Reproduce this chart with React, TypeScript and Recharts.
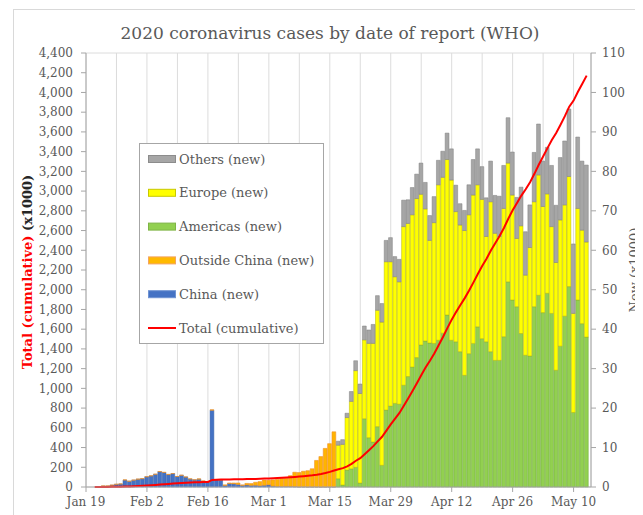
import React from 'react';
import { ComposedChart, Bar, Line, XAxis, YAxis, CartesianGrid } from 'recharts';

// days are counted from Jan 19 (day 0); data starts Jan 21
const FIRST_DAY = 2;
const REGIONS_FROM = 58; // Mar 17: split by region instead of China / outside China

const tickDays = [0, 14, 28, 42, 56, 70, 84, 98, 112];
const tickLabels = ['Jan 19', 'Feb 2', 'Feb 16', 'Mar 1', 'Mar 15', 'Mar 29', 'Apr 12', 'Apr 26', 'May 10'];
const weekDays = [0, 7, 14, 21, 28, 35, 42, 49, 56, 63, 70, 77, 84, 91, 98, 105, 112];
const leftTicks = Array.from({ length: 23 }, (_, i) => i * 200);
const gridTicks = Array.from({ length: 45 }, (_, i) => i * 100);
const rightTicks = [0, 10, 20, 30, 40, 50, 60, 70, 80, 90, 100, 110];

// new cases (x1000), Jan 21 .. Mar 16
const china = [
  0, 0.03, 0.26, 0.26, 0.46, 0.68, 0.77, 1.77, 1.46, 1.74, 1.98, 2.1, 2.59, 2.82,
  3.23, 3.89, 3.69, 3.14, 3.4, 2.66, 2.97, 2.53, 2.02, 1.82, 1.99, 1.5, 1.26, 19.46,
  1.89, 1.75, 0.39, 0.89, 0.82, 0.65, 0.41, 0.51, 0.41, 0.44, 0.33, 0.43, 0.57, 0.21,
  0.13, 0.12, 0.14, 0.14, 0.1, 0.04, 0.05, 0.02, 0.03, 0.02, 0.01, 0.02, 0.02, 0.03,
];
const outsideChina = [
  0, 0.002, 0.005, 0.005, 0.012, 0.015, 0.015, 0.03, 0.01, 0.015, 0.03, 0.03, 0.015, 0.015,
  0.01, 0.03, 0.03, 0.07, 0.005, 0.01, 0.03, 0.02, 0.05, 0.006, 0.07, 0.03, 0.02, 0.11,
  0.01, 0.12, 0.15, 0.13, 0.2, 0.37, 0.11, 0.4, 0.46, 0.75, 1.03, 1.32, 1.16, 1.6,
  1.79, 2.1, 2.09, 2.73, 3.64, 3.62, 3.94, 4.11, 4.59, 6.71, 7.7, 9.76, 10.96, 13.96,
];

// new cases (x1000), Mar 17 .. May 13
const americas = [
  2.1, 0.5, 4.3, 4.6, 5.0, 1.0, 17.3, 12.5, 11.4, 15.3, 5.5, 19.5, 20.5, 21.2, 21.0,
  25.8, 28.0, 30.4, 32.8, 36.0, 37.0, 36.5, 36.4, 37.2, 39.0, 43.6, 37.2, 36.8, 34.3,
  28.3, 33.8, 36.4, 40.6, 37.6, 36.8, 34.3, 32.1, 32.1, 38.1, 52.0, 47.4, 45.7, 38.9,
  33.4, 33.2, 45.7, 48.6, 44.2, 49.1, 44.0, 29.6, 35.7, 43.3, 50.8, 18.9, 47.4, 41.4, 38.0,
];
const europe = [
  8.5, 10.3, 13.3, 17.1, 24.5, 22.7, 20.0, 23.9, 25.0, 29.5, 36.3, 37.6, 36.6, 32.1, 31.0,
  40.2, 38.8, 38.6, 40.3, 38.2, 33.5, 26.0, 30.6, 39.4, 39.5, 39.4, 40.6, 33.0, 32.1,
  36.7, 35.2, 37.6, 36.0, 35.3, 26.7, 38.0, 32.2, 31.4, 32.5, 30.1, 26.6, 17.3, 27.3,
  20.3, 27.5, 26.6, 30.5, 26.9, 25.2, 22.0, 27.3, 32.0, 28.2, 27.9, 25.1, 23.2, 23.7, 24.1,
];
const others = [
  1.0, 1.2, 1.1, 2.5, 2.5, 2.4, 3.5, 3.4, 4.8, 3.7, 4.7, 5.4, 6.1, 5.1, 5.7,
  6.7, 6.0, 6.9, 6.2, 7.9, 6.7, 6.3, 6.6, 6.2, 6.6, 6.7, 7.9, 6.7, 5.4,
  5.1, 7.6, 9.0, 9.1, 8.3, 9.8, 10.3, 9.6, 10.2, 10.9, 11.5, 10.9, 10.4, 9.8,
  11.0, 10.8, 12.5, 12.9, 11.5, 11.8, 15.5, 14.5, 15.8, 16.2, 17.1, 17.6, 18.1, 17.5, 19.5,
];

// cumulative total (x1000), Jan 21 .. May 13
const totalCumulative = [
  0.28, 0.31, 0.58, 0.85, 1.32, 2.01, 2.8, 4.59, 6.07, 7.82, 9.83, 11.95, 14.56, 17.39,
  20.63, 24.55, 28.28, 31.48, 34.89, 37.56, 40.55, 43.1, 45.17, 47.0, 49.05, 50.58, 51.86, 71.43,
  73.33, 75.2, 75.75, 76.77, 77.79, 78.81, 79.33, 80.24, 81.11, 82.29, 83.65, 85.4, 87.14, 88.95,
  90.87, 93.09, 95.32, 98.19, 101.9, 105.6, 109.6, 113.7, 118.3, 125.0, 132.8, 142.5, 153.5, 167.5,
  179.1, 191.1, 209.8, 234.1, 266.1, 292.1, 332.9, 372.8, 414.2, 462.7, 509.2, 571.7, 634.8,
  693.2, 750.9, 823.6, 896.5, 972.3, 1051.6, 1133.8, 1211.0, 1279.7, 1353.4, 1436.2, 1521.3,
  1610.9, 1696.6, 1773.1, 1844.9, 1914.9, 1991.6, 2074.5, 2160.2, 2241.4, 2314.6, 2397.2,
  2471.1, 2544.8, 2626.3, 2719.9, 2804.8, 2878.2, 2954.2, 3019.0, 3090.4, 3175.2, 3267.2,
  3349.8, 3435.9, 3517.3, 3588.8, 3672.2, 3760.0, 3855.8, 3917.4, 4006.3, 4088.8, 4170.4,
];

const rows = totalCumulative.map((total, i) => {
  const day = FIRST_DAY + i;
  const j = day - REGIONS_FROM;
  return {
    day,
    china: i < china.length ? china[i] : null,
    outside: i < outsideChina.length ? outsideChina[i] : null,
    americas: j >= 0 ? americas[j] : null,
    europe: j >= 0 ? europe[j] : null,
    others: j >= 0 ? others[j] : null,
    total,
  };
});

const FONT = '"DejaVu Serif", serif';
const GREY_TEXT = '#595959';
const AXIS = '#a6a6a6';
const tickStyle = { fontSize: 12, fill: GREY_TEXT, fontFamily: FONT };

const legendItems = [
  { name: 'Others (new)', fill: '#a6a6a6', stroke: '#8c8c8c' },
  { name: 'Europe (new)', fill: '#ffff00', stroke: '#c8c800' },
  { name: 'Americas (new)', fill: '#92d050', stroke: '#7fb446' },
  { name: 'Outside China (new)', fill: '#ffb900', stroke: '#f4a460' },
  { name: 'China (new)', fill: '#4472c4', stroke: '#6f93d3' },
];

export default function App() {
  return (
    <div style={{ position: 'relative', width: 635, height: 507, overflow: 'hidden', background: '#fff' }}>
      <div
        style={{
          position: 'absolute', left: 5, top: 1, width: 700, height: 600,
          border: '1px solid #d9d9d9', boxSizing: 'border-box',
        }}
      />
      <ComposedChart
        width={635}
        height={507}
        data={rows}
        margin={{ top: 45, right: 12, bottom: 6, left: 18 }}
        style={{ position: 'absolute', left: 0, top: 0 }}
      >
        <CartesianGrid xAxisId="week" yAxisId="grid" stroke="#dcdcdc" />
        <XAxis xAxisId="week" type="number" dataKey="day" domain={[0, 116]} ticks={weekDays} height={0} hide />
        <XAxis
          xAxisId="main"
          type="number"
          dataKey="day"
          domain={[0, 116]}
          ticks={tickDays}
          interval={0}
          tickFormatter={(v: number) => tickLabels[tickDays.indexOf(v)] ?? ''}
          height={22}
          tick={tickStyle}
          tickSize={5}
          tickMargin={5}
          axisLine={{ stroke: AXIS }}
          tickLine={{ stroke: AXIS }}
        />
        <YAxis
          yAxisId="left"
          domain={[0, 4400]}
          ticks={leftTicks}
          interval={0}
          tickFormatter={(v: number) => v.toLocaleString('en-US')}
          width={60}
          tick={tickStyle}
          tickSize={5}
          tickMargin={8}
          axisLine={{ stroke: AXIS }}
          tickLine={{ stroke: AXIS }}
        />
        <YAxis yAxisId="grid" domain={[0, 4400]} ticks={gridTicks} interval={0} width={0} hide />
        <YAxis
          yAxisId="right"
          orientation="right"
          domain={[0, 110]}
          ticks={rightTicks}
          interval={0}
          width={40}
          tick={tickStyle}
          tickSize={5}
          tickMargin={6}
          axisLine={{ stroke: AXIS }}
          tickLine={{ stroke: AXIS }}
        />
        <Bar xAxisId="main" yAxisId="right" stackId="s" dataKey="china" barSize={3.8}
          fill="#4472c4" stroke="#3a62a8" strokeWidth={0.5} isAnimationActive={false} />
        <Bar xAxisId="main" yAxisId="right" stackId="s" dataKey="outside" barSize={3.8}
          fill="#ffb400" stroke="#f0912a" strokeWidth={0.6} isAnimationActive={false} />
        <Bar xAxisId="main" yAxisId="right" stackId="s" dataKey="americas" barSize={3.8}
          fill="#92d050" stroke="#6fa83a" strokeWidth={0.5} isAnimationActive={false} />
        <Bar xAxisId="main" yAxisId="right" stackId="s" dataKey="europe" barSize={3.8}
          fill="#ffff00" stroke="#b5b500" strokeWidth={0.5} isAnimationActive={false} />
        <Bar xAxisId="main" yAxisId="right" stackId="s" dataKey="others" barSize={3.8}
          fill="#a6a6a6" stroke="#7f7f7f" strokeWidth={0.5} isAnimationActive={false} />
        <Line xAxisId="main" yAxisId="left" dataKey="total" type="linear" stroke="#ff0000"
          strokeWidth={2} dot={false} isAnimationActive={false} />
      </ComposedChart>

      <svg width={635} height={507} style={{ position: 'absolute', left: 0, top: 0, pointerEvents: 'none' }}>
        <text x={322} y={31} textAnchor="middle" fontFamily={FONT} fontSize={17} fill={GREY_TEXT}>
          2020 coronavirus cases by date of report (WHO)
        </text>
        <text
          transform="translate(19, 264) rotate(-90)"
          textAnchor="middle"
          fontFamily={FONT}
          fontSize={13}
          fontWeight="bold"
          dominantBaseline="central"
        >
          <tspan fill="#ff0000">Total (cumulative)</tspan>
          <tspan fill="#262626"> (x1000)</tspan>
        </text>
        <text
          transform="translate(626, 262) rotate(-90)"
          textAnchor="middle"
          fontFamily={FONT}
          fontSize={13}
          fill={GREY_TEXT}
          dominantBaseline="central"
        >
          New (x1000)
        </text>

        <rect x={131.5} y={135.5} width={184} height={200} fill="#fff" stroke="#a6a6a6" />
        {legendItems.map((item, i) => (
          <g key={item.name}>
            <rect x={140.5} y={147.5 + i * 33.8} width={27} height={7} fill={item.fill} stroke={item.stroke} />
            <text x={171} y={151 + i * 33.8} dominantBaseline="central" fontFamily={FONT} fontSize={13} fill={GREY_TEXT}>
              {item.name}
            </text>
          </g>
        ))}
        <line x1={140} x2={168} y1={320} y2={320} stroke="#ff0000" strokeWidth={2} />
        <text x={171} y={320} dominantBaseline="central" fontFamily={FONT} fontSize={13} fill={GREY_TEXT}>
          Total (cumulative)
        </text>
      </svg>
    </div>
  );
}
